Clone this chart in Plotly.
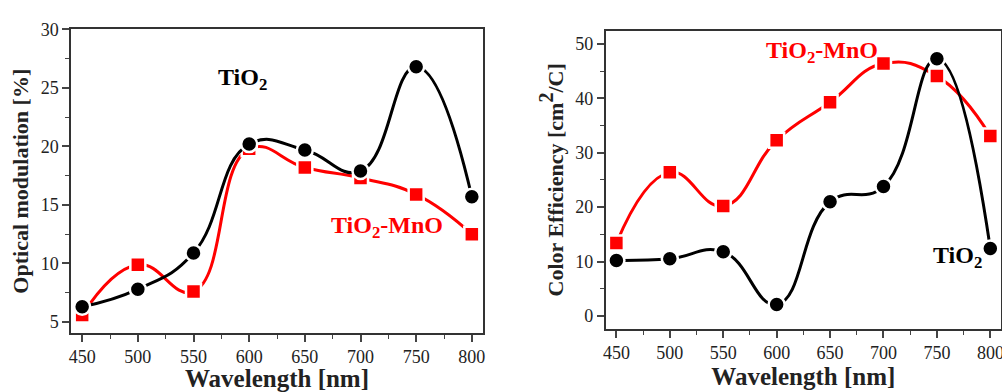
import plotly.graph_objects as go

wavelength = [450, 500, 550, 600, 650, 700, 750, 800]
om_tio2 = [6.3, 7.8, 10.9, 20.2, 19.7, 17.9, 26.8, 15.7]
om_tio2_mno = [5.6, 9.9, 7.6, 19.8, 18.2, 17.3, 15.9, 12.5]
ce_tio2 = [10.2, 10.5, 11.8, 2.1, 21.0, 23.8, 47.3, 12.4]
ce_tio2_mno = [13.4, 26.4, 20.2, 32.3, 39.3, 46.4, 44.1, 33.1]
x_ticks = [450, 500, 550, 600, 650, 700, 750, 800]

FONT = "Liberation Serif"
RED = "#ff0000"

fig = go.Figure()

def add(x, y, color, symbol, size, xa, ya):
    fig.add_trace(go.Scatter(
        x=x, y=y, mode="lines+markers", xaxis=xa, yaxis=ya,
        line=dict(color=color, width=3, shape="spline", smoothing=1.3),
        marker=dict(color=color, symbol=symbol, size=size,
                    line=dict(color="white", width=2.5)),
        showlegend=False, cliponaxis=False))

add(wavelength, om_tio2_mno, RED, "square", 15, "x", "y")
add(wavelength, om_tio2, "black", "circle", 16, "x", "y")
add(wavelength, ce_tio2_mno, RED, "square", 15, "x2", "y2")
add(wavelength, ce_tio2, "black", "circle", 16, "x2", "y2")

tickfont = dict(family=FONT, size=18, color="#222")
titlefont = dict(family=FONT, size=22, color="#222")

def xaxis(domain, anchor):
    return dict(domain=domain, anchor=anchor, range=[440, 810], automargin=False,
                tickvals=x_ticks, ticks="outside", ticklen=7, tickwidth=1.5,
                linecolor="#333", linewidth=1.5, mirror=True, showgrid=False,
                zeroline=False, tickfont=tickfont,
                minor=dict(ticks="outside", dtick=25, ticklen=4, tickwidth=1.2, tick0=450),
                title=dict(text="<b>Wavelength [nm]</b>", font=dict(family=FONT, size=25, color="#222"), standoff=0))

fig.update_layout(
    width=1002, height=392,
    margin=dict(l=0, r=0, t=0, b=0),
    paper_bgcolor="white", plot_bgcolor="white",
    xaxis=xaxis([0.0709, 0.482], "y"),
    xaxis2=xaxis([0.6045, 0.999], "y2"),
    yaxis=dict(domain=[0.1505, 0.925], anchor="x", range=[4.06, 30], automargin=False,
               tickvals=[5, 10, 15, 20, 25, 30], ticks="outside", ticklen=7, tickwidth=1.5,
               linecolor="#333", linewidth=1.5, mirror=True, showgrid=False,
               zeroline=False, tickfont=tickfont,
               minor=dict(ticks="outside", dtick=2.5, ticklen=4, tickwidth=1.2, tick0=5),
               title=dict(text="<b>Optical modulation [%]</b>", font=titlefont, standoff=6)),
    yaxis2=dict(domain=[0.1607, 0.9217], anchor="x2", range=[-2.4, 52.45], automargin=False,
                tickvals=[0, 10, 20, 30, 40, 50], ticks="outside", ticklen=7, tickwidth=1.5,
                linecolor="#333", linewidth=1.5, mirror=True, showgrid=False,
                zeroline=False, tickfont=tickfont,
                minor=dict(ticks="outside", dtick=5, ticklen=4, tickwidth=1.2, tick0=0),
                title=dict(text="<b>Color Efficiency [cm<sup><span style='font-size:20px'>2</span></sup>/C]</b>",
                           font=titlefont, standoff=6)),
)

# last x tick label of the right panel (plotly drops it because it runs past the page edge)
fig.add_annotation(x=x_ticks[-1], y=0.1, xref="x2", yref="paper", text=str(x_ticks[-1]),
                   showarrow=False, font=tickfont, yanchor="middle", xanchor="center")

annfont_b = dict(family=FONT, size=24, color="black")
annfont_r = dict(family=FONT, size=24, color=RED)
fig.add_annotation(x=594, y=25.8, xref="x", yref="y", text="<b>TiO<sub>2</sub></b>",
                   showarrow=False, font=annfont_b)
fig.add_annotation(x=724, y=13.1, xref="x", yref="y", text="<b>TiO<sub>2</sub>-MnO</b>",
                   showarrow=False, font=annfont_r)
fig.add_annotation(x=642, y=48.6, xref="x2", yref="y2", text="<b>TiO<sub>2</sub>-MnO</b>",
                   showarrow=False, font=annfont_r)
fig.add_annotation(x=769, y=10.9, xref="x2", yref="y2", text="<b>TiO<sub>2</sub></b>",
                   showarrow=False, font=annfont_b)

fig.write_html("out.html", config={"displayModeBar": False},
               post_script="document.body.style.margin='0';document.body.style.overflow='hidden';")
